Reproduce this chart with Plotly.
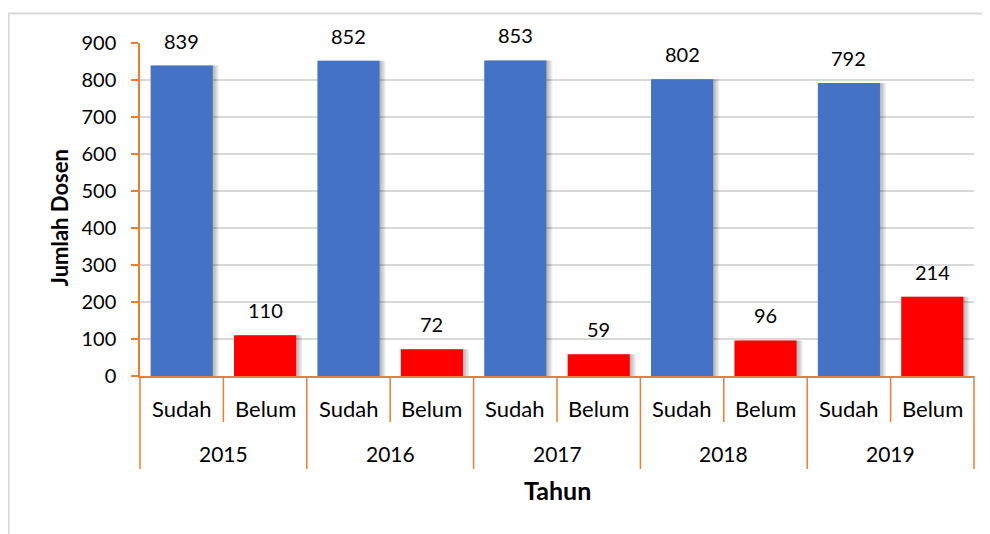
import plotly.graph_objects as go

years = ["2015", "2016", "2017", "2018", "2019"]
statuses = ["Sudah", "Belum"]
sudah = [839, 852, 853, 802, 792]
belum = [110, 72, 59, 96, 214]
y_ticks = [0, 100, 200, 300, 400, 500, 600, 700, 800, 900]

BLUE = "#4472C4"
RED = "#FF0000"
ORANGE = "#ED7D31"
GRID = "#D9D9D9"
FONT = "Lato"

cats, vals, cols, subs = [], [], [], []
for i, yr in enumerate(years):
    for st, v, c in ((statuses[0], sudah[i], BLUE), (statuses[1], belum[i], RED)):
        cats.append(f"{yr} {st}")
        vals.append(v)
        cols.append(c)
        subs.append(st)

n = len(cats)
plot_w = 834.0
plot_h = 333.0
cat_px = plot_w / n
bar_w = 0.745

fig = go.Figure()
# soft shadow layers (same data, drawn beneath, nudged right)
for dx in (1.5, 3.0, 4.5, 6.0):
    fig.add_trace(go.Bar(x=cats, y=vals, width=bar_w, offset=-bar_w / 2 + dx / cat_px,
                         marker=dict(color="rgba(0,0,0,0.075)", line=dict(width=0)),
                         hoverinfo="skip", showlegend=False))
fig.add_trace(go.Bar(x=cats, y=vals, width=bar_w, offset=-bar_w / 2,
                     marker=dict(color=cols, line=dict(width=0)),
                     hoverinfo="x+y", showlegend=False))

annotations = []
for c, v in zip(cats, vals):
    annotations.append(dict(x=c, y=v, xref="x", yref="y", text=str(v), showarrow=False,
                            xanchor="center", yanchor="middle", yshift=25,
                            font=dict(size=20, color="#000", family=FONT)))
# sub-category labels
for c, s in zip(cats, subs):
    annotations.append(dict(x=c, y=0, xref="x", yref="paper", text=s, showarrow=False,
                            xanchor="center", yanchor="middle", yshift=-32,
                            font=dict(size=22, color="#000", family=FONT)))
# year labels
for i, yr in enumerate(years):
    annotations.append(dict(x=(2 * i + 1) / n, y=0, xref="paper", yref="paper", text=yr, showarrow=False,
                            xanchor="center", yanchor="middle", yshift=-77,
                            font=dict(size=21, color="#000", family=FONT)))
# axis titles
annotations.append(dict(x=0.5, y=0, xref="paper", yref="paper", text="<b>Tahun</b>", showarrow=False,
                        xanchor="center", yanchor="middle", yshift=-114,
                        font=dict(size=25, color="#000", family=FONT)))
annotations.append(dict(x=0, y=0.5, xref="paper", yref="paper", text="<b>Jumlah Dosen</b>", showarrow=False,
                        textangle=-90, xanchor="center", yanchor="middle", xshift=-81, yshift=-9,
                        font=dict(size=22, color="#000", family=FONT)))

shapes = []
# inner ticks between Sudah/Belum
for i in range(len(years)):
    xb = (2 * i + 1) / n
    shapes.append(dict(type="line", xref="paper", yref="paper", x0=xb, x1=xb, y0=0, y1=-46 / plot_h,
                       line=dict(color=ORANGE, width=1.5)))
# outer dividers
for i in range(len(years) + 1):
    xb = (2 * i) / n
    shapes.append(dict(type="line", xref="paper", yref="paper", x0=xb, x1=xb, y0=0, y1=-93 / plot_h,
                       line=dict(color=ORANGE, width=1.5)))
# chart frame
shapes.append(dict(type="rect", xref="paper", yref="paper", x0=-131.2 / plot_w, x1=1.2, y0=-1.0,
                   y1=362.5 / plot_h, line=dict(color=GRID, width=1.8), fillcolor="rgba(0,0,0,0)",
                   layer="below"))

fig.update_layout(
    width=982, height=526,
    margin=dict(l=132, r=16, t=35, b=158),
    paper_bgcolor="white", plot_bgcolor="white",
    barmode="overlay",
    font=dict(family=FONT, size=20, color="#000"),
    xaxis=dict(type="category", showticklabels=False, showgrid=False, showline=True,
               linecolor=ORANGE, linewidth=1.5, ticks="", zeroline=False, fixedrange=True,
               range=[-0.5, n - 0.5]),
    yaxis=dict(range=[0, 900], tickvals=y_ticks, showgrid=True, gridcolor=GRID, gridwidth=1.5,
               showline=True, linecolor=ORANGE, linewidth=1.5, ticks="outside", tickcolor=ORANGE,
               ticklen=7, tickwidth=1.5, zeroline=False, ticklabelstandoff=11,
               tickfont=dict(size=20, family=FONT, color="#000")),
    annotations=annotations,
    shapes=shapes,
)

fig.write_html("out.html")
